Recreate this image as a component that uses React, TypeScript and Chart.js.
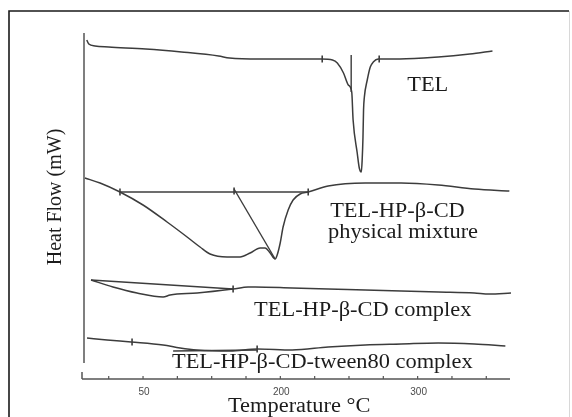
import { useEffect, useRef } from "react";
import { Chart, registerables } from "chart.js";

Chart.register(...registerables);

// DSC thermograms. Temperature in axis units, heat flow as stacked, offset traces (endotherm down).
const telTemp = [59, 60.5, 65, 75, 102, 128, 155, 163, 185, 214, 230, 238, 241.5, 246, 249.5, 252, 253, 256, 257.5, 259, 259.6, 260.2, 260.6, 261.2, 263.3, 265.5, 267.7, 271.3, 287, 315, 338, 354.5];
const telFlow = [339, 335, 333, 332, 330, 327, 323, 321, 320, 320, 320, 319, 316, 306, 294, 287, 259, 226, 211, 207, 219, 242, 269, 282, 299, 312, 317, 320, 320, 322, 325, 328];

const pmTemp = [57.7, 68.7, 83.2, 100, 117.5, 132.1, 141.5, 148.8, 161.2, 170.7, 178, 185.3, 188.9, 192.6, 196.2, 197.7, 199.9, 202, 205.7, 209.3, 214.4, 220.3, 234.8, 261.8, 288, 315, 341.3, 366.8];
const pmFlow = [201, 196, 187, 174, 157, 142, 132, 125, 122, 122, 126, 131, 131, 126, 120, 124, 136, 152, 169, 179, 185, 187, 193, 196, 196, 194, 190, 188];

const cxTemp = [62.1, 78.1, 95.6, 114.6, 119.7, 139.4, 165.6, 176.5, 181.6, 208.6, 234.8, 261.8, 288, 315, 341.3, 352.2, 368];
const cxFlow = [99, 92, 86, 82, 84, 86, 90, 92, 92, 91, 90, 89, 88, 87, 86, 85, 86];

const twTemp = [59.2, 73.8, 91.3, 114.6, 127, 139.4, 163.4, 183.1, 208.6, 234.8, 261.8, 288, 315, 341.3, 363.9];
const twFlow = [41, 39, 37, 34, 31, 29, 28, 30, 29, 32, 34, 35, 36, 35, 33];

// Integration construction lines drawn by the instrument software
const telDropTemp = [251.6, 251.6];
const telDropFlow = [324, 287];
const pmBaseTemp = [83.2, 220.3];
const pmBaseFlow = [187, 187];
const pmDiagTemp = [166.3, 196.2];
const pmDiagFlow = [190, 120];
const cxBaseTemp = [62.1, 165.6];
const cxBaseFlow = [99, 90];
const twBaseTemp = [121.9, 183.1];
const twBaseFlow = [28, 29];

// Small limit markers on the traces
const markTemp = [230.5, 272, 83.2, 166.3, 220.3, 165.6, 92, 183.1];
const markFlow = [320, 320, 187, 188, 187, 90, 37, 30];

// Axis ticks and labels
const tickValues = [75, 100, 125, 150, 175, 200, 225, 250, 275, 300, 325, 350];
const labelValues = [100, 200, 300];
const labelTexts = ["50", "200", "300"];

const traceNames = ["TEL", "TEL-HP-β-CD", "physical mixture", "TEL-HP-β-CD complex", "TEL-HP-β-CD-tween80 complex"];
const traceNameTemp = [292.4, 236.3, 234.8, 180.9, 121.1];
const traceNameFlow = [288, 162, 141, 63, 11];

const xTitle = "Temperature °C";
const yTitle = "Heat Flow (mW)";

const LINE = "#3c3c3c";
const INK = "#1c1c1c";
const SERIF = '20px "Liberation Serif", "Times New Roman", serif';

const pts = (xs: number[], ys: number[]) => xs.map((x, i) => ({ x, y: ys[i] }));

const curve = (xs: number[], ys: number[]) => ({
  type: "line" as const,
  data: pts(xs, ys),
  borderColor: LINE,
  borderWidth: 1.5,
  pointRadius: 0,
  cubicInterpolationMode: "monotone" as const,
  fill: false,
});

const straight = (xs: number[], ys: number[]) => ({
  type: "line" as const,
  data: pts(xs, ys),
  borderColor: LINE,
  borderWidth: 1.4,
  pointRadius: 0,
  tension: 0,
  fill: false,
});

const stretchText = (ctx: CanvasRenderingContext2D, text: string, x: number, y: number) => {
  ctx.save();
  ctx.translate(x, y);
  ctx.scale(1.12, 1);
  ctx.fillText(text, 0, 0);
  ctx.restore();
};

const decor = {
  id: "dscDecor",
  beforeDatasetsDraw(chart: any) {
    const { ctx, chartArea, scales } = chart;
    const xs = scales.x;
    const ys = scales.y;
    ctx.save();
    // outer frame
    ctx.strokeStyle = "#1a1a1a";
    ctx.lineWidth = 1.6;
    ctx.beginPath();
    ctx.moveTo(9, 420);
    ctx.lineTo(9, 11);
    ctx.lineTo(569, 11);
    ctx.stroke();
    ctx.strokeStyle = "#d8d8d8";
    ctx.lineWidth = 1;
    ctx.beginPath();
    ctx.moveTo(569.5, 11);
    ctx.lineTo(569.5, 420);
    ctx.stroke();

    // y axis line
    ctx.strokeStyle = "#555";
    ctx.lineWidth = 1.5;
    ctx.beginPath();
    ctx.moveTo(chartArea.left, chartArea.top);
    ctx.lineTo(chartArea.left, ys.getPixelForValue(16));
    ctx.stroke();

    // x axis line with inward ticks
    const yb = chartArea.bottom;
    ctx.beginPath();
    ctx.moveTo(chartArea.left - 2, yb);
    ctx.lineTo(chartArea.right - 1, yb);
    ctx.moveTo(chartArea.left - 2, yb);
    ctx.lineTo(chartArea.left - 2, yb - 7);
    ctx.stroke();
    ctx.lineWidth = 1.2;
    ctx.beginPath();
    tickValues.forEach((v) => {
      const px = xs.getPixelForValue(v);
      ctx.moveTo(px, yb);
      ctx.lineTo(px, yb - 3);
    });
    ctx.stroke();

    ctx.fillStyle = "#4a4a4a";
    ctx.font = '10px "Liberation Sans", Arial, sans-serif';
    ctx.textAlign = "center";
    ctx.textBaseline = "middle";
    labelValues.forEach((v, i) => {
      ctx.fillText(labelTexts[i], xs.getPixelForValue(v) + 1, yb + 13);
    });
    ctx.restore();
  },
  afterDraw(chart: any) {
    const { ctx, chartArea, scales } = chart;
    const xs = scales.x;
    const ys = scales.y;
    ctx.save();
    ctx.fillStyle = INK;
    ctx.font = SERIF;
    ctx.textAlign = "left";
    ctx.textBaseline = "alphabetic";
    traceNames.forEach((t, i) => {
      stretchText(ctx, t, xs.getPixelForValue(traceNameTemp[i]), ys.getPixelForValue(traceNameFlow[i]));
    });
    // axis titles
    stretchText(ctx, xTitle, 228, chartArea.bottom + 33);
    ctx.translate(61, 197);
    ctx.rotate(-Math.PI / 2);
    ctx.textAlign = "center";
    ctx.fillText(yTitle, 0, 0);
    ctx.restore();
  },
};

export default function App() {
  const ref = useRef<HTMLCanvasElement | null>(null);

  useEffect(() => {
    document.body.style.margin = "0";
    const canvas = ref.current;
    if (!canvas) return;
    const chart = new Chart(canvas, {
      type: "line",
      data: {
        datasets: [
          curve(telTemp, telFlow),
          curve(pmTemp, pmFlow),
          curve(cxTemp, cxFlow),
          curve(twTemp, twFlow),
          straight(telDropTemp, telDropFlow),
          straight(pmBaseTemp, pmBaseFlow),
          straight(pmDiagTemp, pmDiagFlow),
          straight(cxBaseTemp, cxBaseFlow),
          straight(twBaseTemp, twBaseFlow),
          {
            type: "scatter" as const,
            data: pts(markTemp, markFlow),
            pointStyle: "line",
            rotation: 90,
            radius: 3.5,
            borderColor: LINE,
            borderWidth: 1.6,
          } as any,
        ],
      },
      options: {
        animation: false,
        responsive: false,
        devicePixelRatio: 1,
        layout: { padding: { left: 84, top: 33, right: 61, bottom: 38 } },
        plugins: { legend: { display: false }, tooltip: { enabled: false } },
        scales: {
          x: { type: "linear", min: 57, max: 368, display: false },
          y: { type: "linear", min: 0, max: 346, display: false },
        },
      },
      plugins: [decor],
    });
    return () => chart.destroy();
  }, []);

  return (
    <div style={{ position: "fixed", left: 0, top: 0, width: 572, height: 417, background: "#fff" }}>
      <canvas ref={ref} width={572} height={417} style={{ display: "block" }} />
    </div>
  );
}
